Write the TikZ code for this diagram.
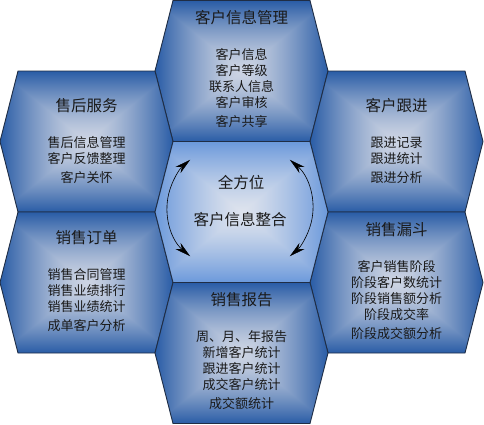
\documentclass[tikz,border=0pt]{standalone}
\usepackage{fontspec}
\setmainfont{Noto Sans CJK SC}
\usetikzlibrary{arrows.meta}

\definecolor{hexline}{HTML}{1F2D45}
\definecolor{textgray}{HTML}{1A1A1A}

% pyramid shadings, dark rim and light middle
\pgfdeclarefunctionalshading{rimdark}{\pgfpoint{-50bp}{-50bp}}{\pgfpoint{50bp}{50bp}}{}{
  abs exch abs 2 copy sub abs add add 2 div 25 div 1.4 exp
  dup -0.64 mul 0.80 add exch dup -0.47 mul 0.83 add exch -0.24 mul 0.89 add
}
\pgfdeclarefunctionalshading{rimlight}{\pgfpoint{-50bp}{-50bp}}{\pgfpoint{50bp}{50bp}}{}{
  abs exch abs 2 copy sub abs add add 2 div 25 div 1.3 exp
  dup -0.45 mul 0.87 add exch dup -0.29 mul 0.89 add exch -0.07 mul 0.93 add
}

\tikzset{
  cellhex/.style={shade, shading=rimdark, draw=hexline, line width=0.9pt},
  title/.style={font=\fontsize{15.5}{18}\selectfont, text=textgray},
  items/.style={font=\fontsize{13}{16}\selectfont, text=textgray, align=center},
  biarrow/.style={{Stealth[length=16pt,width=8pt]}-{Stealth[length=16pt,width=8pt]}, line width=0.6pt}
}

\begin{document}
\begin{tikzpicture}[x=1pt,y=-1pt]
  \useasboundingbox (0,0) rectangle (484,424);

  % Outer cells
  \foreach \cx/\cy in {241.5/71, 86.5/141.5, 396.5/141.5, 86.5/282.5, 396.5/282.5, 241.5/353}
    \path[cellhex] (\cx-86.5,\cy) -- (\cx-68.5,\cy-70.5) -- (\cx+68.5,\cy-70.5)
      -- (\cx+86.5,\cy) -- (\cx+68.5,\cy+70.5) -- (\cx-68.5,\cy+70.5) -- cycle;

  % Middle cell
  \path[cellhex, shading=rimlight] (155,212) -- (173,141.5) -- (310,141.5)
    -- (328,212) -- (310,282.5) -- (173,282.5) -- cycle;

  % Customer info
  \node[title] (infoT) at (241.5,18) {客户信息管理};
  \node[items] (infoB) at (241.5,88.5) {客户信息\\客户等级\\联系人信息\\客户审核\\[3pt]客户共享};

  % After-sales
  \node[title] (serviceT) at (86.5,106) {售后服务};
  \node[items] (serviceB) at (86.5,160) {售后信息管理\\客户反馈整理\\[3pt]客户关怀};

  % Follow-up
  \node[title] (followT) at (396.5,106) {客户跟进};
  \node[items] (followB) at (396.5,160) {跟进记录\\跟进统计\\[3pt]跟进分析};

  % Orders
  \node[title] (orderT) at (86.5,238) {销售订单};
  \node[items] (orderB) at (86.5,300) {销售合同管理\\销售业绩排行\\销售业绩统计\\[3pt]成单客户分析};

  % Funnel
  \node[title] (funnelT) at (396.5,230) {销售漏斗};
  \node[items] (funnelB) at (396.5,300.5) {客户销售阶段\\阶段客户数统计\\阶段销售额分析\\阶段成交率\\[3pt]阶段成交额分析};

  % Reports
  \node[title] (reportT) at (241.5,300) {销售报告};
  \node[items] (reportB) at (241.5,370.5) {周、月、年报告\\新增客户统计\\跟进客户统计\\成交客户统计\\[3pt]成交额统计};

  % Core
  \node[title] (coreA) at (241,183) {全方位};
  \node[title] (coreB) at (240,220) {客户信息整合};

  % Round arrows
  \coordinate (hub) at (240,208);
  \draw[biarrow] ([shift={(133:73 and 66)}]hub) arc[start angle=133, end angle=227, x radius=73, y radius=66];
  \draw[biarrow] ([shift={(-47:73 and 66)}]hub) arc[start angle=-47, end angle=47, x radius=73, y radius=66];
\end{tikzpicture}
\end{document}
